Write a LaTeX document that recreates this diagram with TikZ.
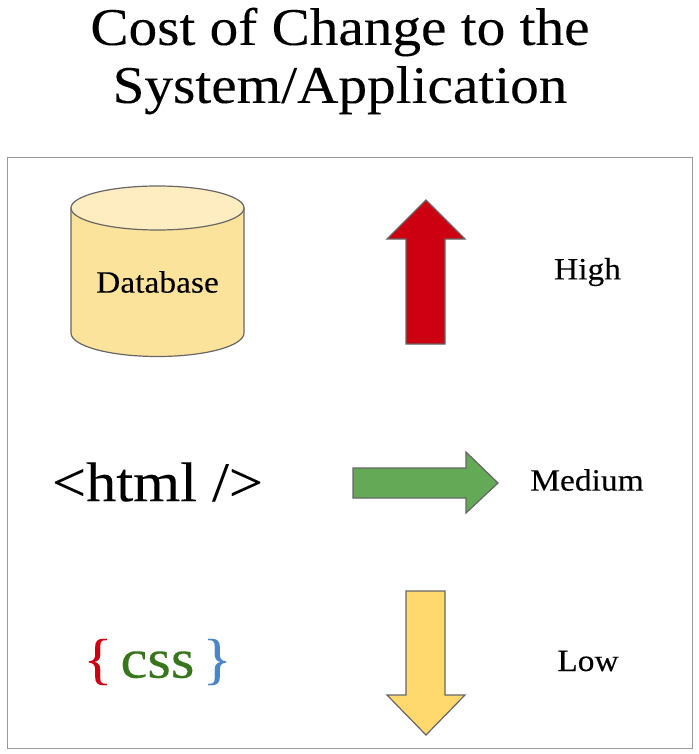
\documentclass[tikz,border=0pt]{standalone}
\usepackage{fontspec}
\setmainfont[FakeStretch=1.08,FakeBold=0.12]{Liberation Serif}
\definecolor{cyl}{HTML}{FCE39C}
\definecolor{cyltop}{HTML}{FDEDC0}
\definecolor{edge}{HTML}{666666}
\definecolor{redA}{HTML}{CC0010}
\definecolor{greenA}{HTML}{64A955}
\definecolor{yellowA}{HTML}{FFD86E}
\definecolor{greenT}{HTML}{38761D}
\definecolor{blueT}{HTML}{4A86C8}
\tikzset{x=1pt,y=-1pt,
 lbl/.style={inner sep=0pt,anchor=center,text=black},
 small/.style={lbl,font=\fontsize{31}{36}\selectfont},
 big/.style={lbl,font=\fontsize{56}{60}\selectfont},
 outl/.style={draw=edge,line width=1.2pt,line join=miter}}
\begin{document}
\begin{tikzpicture}
\useasboundingbox (0,0) rectangle (698,754);
\node[lbl,font=\fontsize{53}{58}\selectfont,align=center] (title) at (340,61) {Cost of Change to the\\System/Application};
\draw[draw=gray!80,line width=1pt] (7,158) rectangle (692,748);
% cylinder
\path[outl,fill=cyl] (71,208) -- (71,333) arc[x radius=86.5,y radius=23.5,start angle=180,end angle=0] -- (244,208) -- cycle;
\path[outl,fill=cyltop] (157.5,208) ellipse[x radius=86.5,y radius=22];
\node[small] (db) at (157.5,282) {Database};
% arrows
\path[outl,fill=redA] (426,200) -- (465,239) -- (445,239) -- (445,344) -- (406,344) -- (406,239) -- (387,239) -- cycle;
\path[outl,fill=greenA] (498,483) -- (466,452) -- (466,468) -- (353,468) -- (353,498) -- (466,498) -- (466,513) -- cycle;
\path[outl,fill=yellowA] (426,735) -- (465,695) -- (445,695) -- (445,591) -- (406,591) -- (406,695) -- (387,695) -- cycle;
\node[small] (high) at (587.5,272) {High};
\node[small] (med) at (587,480) {Medium};
\node[small] (low) at (588,661) {Low};
\node[big] (html) at (157.5,482) {<html />};
\node[big] (css) at (157.5,662) {\textcolor{redA}{\{}\hspace{-7pt} \textcolor{greenT}{css}\hspace{-7pt} \textcolor{blueT}{\}}};
\end{tikzpicture}
\end{document}
